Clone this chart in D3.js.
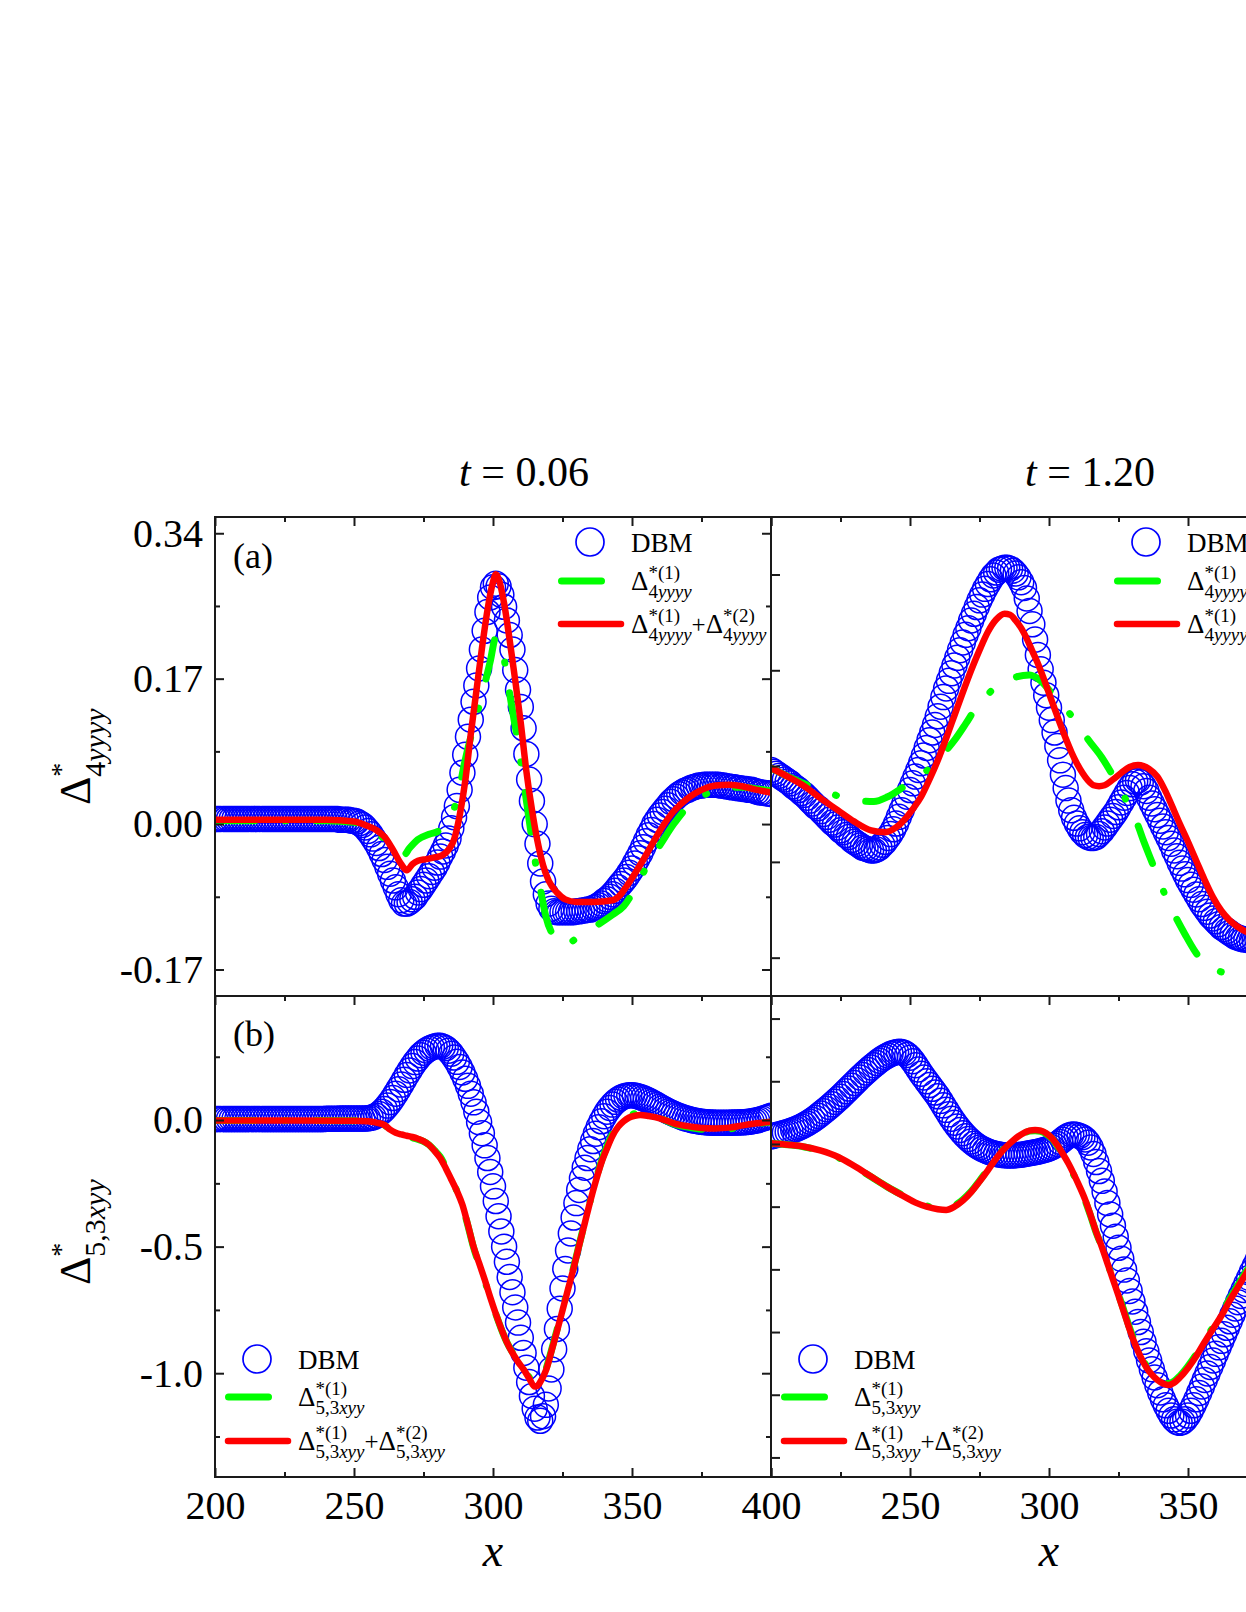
<!DOCTYPE html>
<html>
<head>
<meta charset="utf-8">
<title>DBM vs analytic TNE moments</title>
<script src="https://cdn.jsdelivr.net/npm/d3@7"></script>
<style>
  body { margin: 0; background: #fff; }
  svg text, svg tspan { font-family: "Liberation Serif", "Times New Roman", Times, serif; fill: #000; }
</style>
</head>
<body>
<svg id="chart" width="1246" height="1612" font-family="Liberation Serif, Times New Roman, serif"></svg>
<script>
// ---- data -------------------------------------------------------------
var xMajor = [200, 250, 300, 350, 400];
var xMinor = [225, 275, 325, 375];
var timeLabels = ["0.06", "1.20"];
var panelTags = ["(a)", "(b)"];

// y ticks
var ticksTopLeft = [0.34, 0.17, 0, -0.17];
var minorTopLeft = [0.255, 0.085, -0.085];
var ticksBotLeft = [0, -0.5, -1.0];
var minorBotLeft = [0.25, -0.25, -0.75, -1.25];
var ticksTopRight = [0.3, 0.2, 0.1, 0, -0.1];
var ticksBotRight = [0.5, 0.25, 0, -0.25, -0.5, -0.75, -1.0, -1.25];

// DBM, one value per unit of x starting at x = 200
var dbmTop006 = [
  0.006,0.006,0.006,0.006,0.006,0.006,0.006,0.006,0.006,0.006,
  0.006,0.006,0.006,0.006,0.006,0.006,0.006,0.006,0.006,0.006,
  0.006,0.006,0.006,0.006,0.006,0.006,0.006,0.006,0.006,0.006,
  0.006,0.006,0.006,0.006,0.006,0.006,0.006,0.006,0.006,0.006,
  0.006,0.006,0.006,0.006,0.006,0.005,0.005,0.005,0.005,0.004,
  0.004,0.003,0.001,-0.001,-0.004,-0.008,-0.012,-0.017,-0.022,-0.028,
  -0.035,-0.042,-0.050,-0.058,-0.066,-0.074,-0.082,-0.089,-0.093,-0.093,
  -0.091,-0.088,-0.085,-0.080,-0.076,-0.071,-0.066,-0.061,-0.056,-0.051,
  -0.045,-0.038,-0.032,-0.025,-0.017,-0.005,0.008,0.021,0.040,0.060,
  0.081,0.102,0.122,0.143,0.162,0.182,0.204,0.226,0.248,0.265,
  0.277,0.281,0.278,0.268,0.254,0.238,0.221,0.204,0.180,0.157,
  0.137,0.112,0.082,0.052,0.027,0.000,-0.023,-0.046,-0.067,-0.082,
  -0.093,-0.099,-0.102,-0.103,-0.103,-0.103,-0.103,-0.103,-0.103,-0.103,
  -0.102,-0.102,-0.101,-0.101,-0.100,-0.100,-0.098,-0.097,-0.095,-0.093,
  -0.090,-0.088,-0.085,-0.082,-0.078,-0.074,-0.070,-0.066,-0.062,-0.057,
  -0.052,-0.046,-0.040,-0.034,-0.027,-0.020,-0.013,-0.007,0.000,0.005,
  0.010,0.014,0.018,0.022,0.026,0.029,0.032,0.035,0.037,0.039,
  0.040,0.042,0.043,0.044,0.045,0.045,0.046,0.046,0.046,0.046,
  0.046,0.046,0.045,0.045,0.044,0.044,0.043,0.043,0.042,0.042,
  0.041,0.041,0.040,0.040,0.039,0.038,0.037,0.037,0.036,0.036,
  0.035];

var dbmBot006 = [
  0.004,0.004,0.004,0.004,0.004,0.004,0.004,0.004,0.004,0.004,
  0.004,0.004,0.004,0.004,0.004,0.004,0.004,0.004,0.004,0.004,
  0.004,0.004,0.004,0.004,0.004,0.004,0.004,0.004,0.004,0.004,
  0.004,0.004,0.004,0.004,0.004,0.004,0.004,0.004,0.004,0.004,
  0.005,0.005,0.005,0.005,0.005,0.006,0.006,0.006,0.006,0.006,
  0.006,0.006,0.006,0.006,0.006,0.007,0.009,0.012,0.017,0.024,
  0.033,0.044,0.057,0.071,0.087,0.104,0.122,0.140,0.159,0.178,
  0.196,0.213,0.229,0.243,0.256,0.266,0.275,0.282,0.287,0.291,
  0.293,0.293,0.290,0.284,0.274,0.262,0.247,0.230,0.210,0.188,
  0.163,0.135,0.104,0.070,0.033,-0.008,-0.052,-0.100,-0.150,-0.205,
  -0.262,-0.320,-0.380,-0.440,-0.500,-0.560,-0.620,-0.680,-0.740,-0.800,
  -0.860,-0.920,-0.978,-1.035,-1.090,-1.140,-1.175,-1.188,-1.170,-1.125,
  -1.060,-0.985,-0.905,-0.825,-0.745,-0.665,-0.588,-0.515,-0.448,-0.385,
  -0.328,-0.276,-0.230,-0.188,-0.150,-0.115,-0.083,-0.054,-0.028,-0.005,
  0.015,0.033,0.048,0.061,0.072,0.081,0.088,0.093,0.096,0.098,
  0.098,0.097,0.094,0.091,0.087,0.082,0.077,0.071,0.065,0.059,
  0.053,0.047,0.041,0.035,0.030,0.025,0.020,0.016,0.012,0.008,
  0.005,0.002,-0.001,-0.003,-0.005,-0.007,-0.008,-0.009,-0.010,-0.010,
  -0.011,-0.011,-0.011,-0.011,-0.011,-0.011,-0.010,-0.010,-0.010,-0.009,
  -0.009,-0.008,-0.007,-0.005,-0.003,-0.001,0.002,0.005,0.009,0.013,
  0.017];

var dbmTop120 = [
  0.096,0.094,0.092,0.090,0.088,0.086,0.084,0.082,0.079,0.077,
  0.075,0.072,0.070,0.067,0.064,0.061,0.058,0.056,0.053,0.050,
  0.047,0.044,0.041,0.039,0.036,0.033,0.031,0.028,0.026,0.023,
  0.021,0.019,0.017,0.015,0.014,0.013,0.012,0.012,0.013,0.015,
  0.018,0.021,0.025,0.029,0.034,0.040,0.047,0.054,0.061,0.068,
  0.075,0.082,0.089,0.096,0.103,0.111,0.119,0.127,0.135,0.143,
  0.152,0.162,0.172,0.181,0.189,0.197,0.205,0.213,0.221,0.229,
  0.237,0.244,0.252,0.259,0.266,0.273,0.279,0.285,0.290,0.295,
  0.299,0.302,0.305,0.306,0.307,0.307,0.306,0.304,0.301,0.297,
  0.292,0.286,0.275,0.262,0.248,0.232,0.216,0.201,0.187,0.174,
  0.161,0.148,0.135,0.121,0.106,0.091,0.077,0.064,0.054,0.046,
  0.040,0.035,0.031,0.028,0.026,0.025,0.025,0.026,0.029,0.032,
  0.036,0.040,0.044,0.048,0.052,0.057,0.062,0.067,0.072,0.077,
  0.081,0.084,0.085,0.083,0.079,0.074,0.067,0.061,0.055,0.049,
  0.043,0.037,0.031,0.025,0.019,0.012,0.006,-0.001,-0.007,-0.013,
  -0.019,-0.024,-0.029,-0.034,-0.039,-0.044,-0.048,-0.052,-0.056,-0.059,
  -0.062,-0.065,-0.068,-0.070,-0.072,-0.074,-0.076,-0.078,-0.079,-0.080,
  -0.081,-0.081,-0.082,-0.082,-0.082,-0.082,-0.082];

var dbmBot120 = [
  0.030,0.033,0.036,0.039,0.042,0.045,0.048,0.052,0.056,0.060,
  0.065,0.070,0.076,0.082,0.089,0.096,0.104,0.112,0.121,0.130,
  0.139,0.148,0.158,0.168,0.178,0.188,0.199,0.210,0.221,0.232,
  0.243,0.254,0.265,0.275,0.285,0.295,0.305,0.314,0.323,0.332,
  0.340,0.347,0.353,0.359,0.363,0.366,0.368,0.367,0.363,0.355,
  0.344,0.330,0.314,0.297,0.280,0.265,0.250,0.235,0.220,0.205,
  0.190,0.172,0.154,0.136,0.118,0.101,0.085,0.070,0.056,0.043,
  0.031,0.020,0.010,0.001,-0.007,-0.014,-0.020,-0.025,-0.030,-0.034,
  -0.037,-0.040,-0.042,-0.044,-0.045,-0.046,-0.046,-0.046,-0.045,-0.044,
  -0.043,-0.041,-0.039,-0.037,-0.035,-0.033,-0.031,-0.028,-0.025,-0.022,
  -0.018,-0.013,-0.007,0.000,0.008,0.017,0.026,0.033,0.037,0.038,
  0.036,0.032,0.027,0.018,0.005,-0.014,-0.040,-0.072,-0.108,-0.147,
  -0.190,-0.235,-0.281,-0.326,-0.370,-0.414,-0.458,-0.501,-0.544,-0.586,
  -0.628,-0.669,-0.710,-0.750,-0.789,-0.827,-0.863,-0.898,-0.931,-0.962,
  -0.991,-1.018,-1.042,-1.064,-1.083,-1.098,-1.108,-1.112,-1.108,-1.098,
  -1.083,-1.064,-1.042,-1.018,-0.993,-0.967,-0.941,-0.915,-0.889,-0.863,
  -0.837,-0.811,-0.785,-0.759,-0.733,-0.707,-0.681,-0.656,-0.631,-0.606,
  -0.582,-0.558,-0.534,-0.510,-0.487,-0.464,-0.441];

// first-order (green) and first+second order (red) curves
var redTop006X = [200,220,240,250,254,258,261,264,267,269,271,273,276,279,282,284,286,288,290,292,294,296,298,300,301,302,304,306,308,310,312,314,316,318,320,323,326,330,336,343,346,348,351,354,357,360,365,370,375,380,385,390,395,400];
var redTop006Y = [0.005,0.005,0.005,0.003,-0.001,-0.007,-0.015,-0.030,-0.047,-0.054,-0.047,-0.043,-0.041,-0.039,-0.036,-0.030,-0.018,0.010,0.050,0.105,0.155,0.205,0.250,0.283,0.292,0.287,0.258,0.215,0.168,0.118,0.062,0.017,-0.020,-0.048,-0.066,-0.080,-0.088,-0.091,-0.091,-0.089,-0.082,-0.073,-0.058,-0.042,-0.025,-0.008,0.015,0.030,0.040,0.045,0.046,0.044,0.040,0.037];
var greenTop006X = [200,240,250,255,259,263,266,268,270,273,277,281,284,287,290,293,296,299,301,303,305,307,309,311,313,315,317,319,322,325,328,332,338,343,347,352,356,360,365,370,375,380,385,390,395,400];
var greenTop006Y = [0.004,0.004,0.002,-0.004,-0.012,-0.024,-0.032,-0.036,-0.028,-0.018,-0.012,-0.007,0.005,0.028,0.075,0.114,0.150,0.190,0.218,0.210,0.172,0.133,0.095,0.050,0.005,-0.040,-0.075,-0.108,-0.132,-0.141,-0.138,-0.128,-0.117,-0.106,-0.096,-0.070,-0.045,-0.025,0.000,0.020,0.032,0.040,0.043,0.043,0.041,0.039];

var bot006X = [200,230,250,255,258,261,263,265,267,269,271,273,275,277,279,281,283,285,287,289,291,293,295,297,299,301,303,305,307,309,311,313,315,316,317,319,321,323,325,327,329,331,333,335,337,339,341,343,345,347,349,351,353,356,360,365,370,375,380,385,390,395,400];
var redBot006Y = [-0.002,-0.002,-0.003,-0.005,-0.010,-0.020,-0.038,-0.050,-0.057,-0.062,-0.067,-0.074,-0.083,-0.098,-0.122,-0.150,-0.190,-0.235,-0.280,-0.335,-0.415,-0.500,-0.565,-0.630,-0.700,-0.765,-0.825,-0.878,-0.920,-0.955,-0.985,-1.020,-1.053,-1.050,-1.035,-0.990,-0.915,-0.835,-0.752,-0.668,-0.585,-0.495,-0.408,-0.320,-0.240,-0.168,-0.112,-0.062,-0.027,-0.005,0.010,0.017,0.020,0.016,0.007,-0.013,-0.024,-0.031,-0.033,-0.030,-0.021,-0.013,-0.007];
var greenBot006Y = [-0.002,-0.002,-0.003,-0.005,-0.010,-0.021,-0.040,-0.053,-0.060,-0.066,-0.071,-0.076,-0.084,-0.098,-0.120,-0.145,-0.185,-0.232,-0.280,-0.338,-0.418,-0.503,-0.570,-0.634,-0.702,-0.766,-0.826,-0.878,-0.918,-0.952,-0.982,-1.015,-1.040,-1.040,-1.028,-0.985,-0.910,-0.830,-0.748,-0.665,-0.582,-0.492,-0.405,-0.318,-0.236,-0.162,-0.104,-0.054,-0.018,0.004,0.015,0.025,0.025,0.018,0.008,-0.015,-0.028,-0.036,-0.037,-0.035,-0.024,-0.015,-0.008];

var redTop120X = [200,206,212,218,224,230,236,241,245,248,251,254,257,260,263,266,269,272,275,278,281,284,286,288,290,292,294,296,298,300,302,304,306,308,310,312,314,316,318,320,323,326,329,332,334,336,339,342,344,347,350,353,356,359,362,365,368,371,374,377];
var redTop120Y = [0.098,0.089,0.079,0.066,0.054,0.042,0.033,0.031,0.036,0.044,0.055,0.068,0.086,0.106,0.129,0.153,0.177,0.200,0.221,0.240,0.253,0.259,0.258,0.252,0.244,0.233,0.220,0.207,0.192,0.176,0.160,0.144,0.129,0.115,0.103,0.093,0.085,0.080,0.079,0.080,0.086,0.093,0.099,0.101,0.100,0.097,0.089,0.073,0.060,0.040,0.021,0.001,-0.019,-0.037,-0.051,-0.061,-0.068,-0.073,-0.076,-0.078];
var greenTop120X = [200,207,214,220,225,231,237,242,248,253,258,262,266,270,274,278,282,287,293,297,301,306,310,314,319,323,326,329,332,334,337,340,343,346,349,352,355,358,361,364,367,370,374,377];
var greenTop120Y = [0.098,0.088,0.079,0.073,0.068,0.064,0.063,0.068,0.079,0.089,0.100,0.113,0.127,0.144,0.162,0.175,0.185,0.192,0.195,0.189,0.176,0.160,0.145,0.128,0.109,0.090,0.075,0.056,0.038,0.022,0.000,-0.022,-0.043,-0.060,-0.076,-0.091,-0.103,-0.110,-0.114,-0.116,-0.117,-0.117,-0.117,-0.117];

var bot120X = [200,206,212,218,224,230,236,242,248,252,256,260,263,266,269,272,275,278,281,284,287,290,293,295,297,299,301,303,305,307,309,311,313,315,317,319,321,323,325,327,329,331,333,335,337,339,341,343,345,347,350,353,356,359,362,365,368,371,374,377];
var redBot120Y = [0.003,-0.003,-0.011,-0.027,-0.051,-0.088,-0.130,-0.172,-0.210,-0.234,-0.250,-0.260,-0.263,-0.250,-0.226,-0.192,-0.150,-0.105,-0.058,-0.018,0.013,0.038,0.053,0.056,0.053,0.043,0.024,-0.005,-0.040,-0.078,-0.122,-0.170,-0.222,-0.285,-0.352,-0.410,-0.475,-0.540,-0.605,-0.672,-0.740,-0.800,-0.850,-0.890,-0.920,-0.941,-0.955,-0.961,-0.952,-0.932,-0.893,-0.845,-0.790,-0.737,-0.685,-0.625,-0.570,-0.515,-0.462,-0.410];
var greenBot120Y = [0.003,-0.003,-0.012,-0.028,-0.053,-0.090,-0.131,-0.172,-0.208,-0.231,-0.247,-0.256,-0.258,-0.246,-0.222,-0.189,-0.147,-0.102,-0.056,-0.016,0.014,0.037,0.051,0.053,0.050,0.040,0.022,-0.008,-0.044,-0.082,-0.126,-0.174,-0.226,-0.288,-0.354,-0.410,-0.473,-0.537,-0.600,-0.666,-0.733,-0.793,-0.843,-0.884,-0.914,-0.936,-0.950,-0.955,-0.946,-0.926,-0.886,-0.838,-0.783,-0.730,-0.677,-0.617,-0.562,-0.507,-0.455,-0.404];

// ---- layout -----------------------------------------------------------
var W = 1246, H = 1612;
var PANEL_W = 556;
var colLeft = [215, 771];
var rowTop = [517, 996], rowBottom = [996, 1477];
var AXIS = "#1a1a1a";
var SERIF = "Liberation Serif, Times New Roman, serif";

var svg = d3.select("#chart");
svg.append("rect").attr("width", W).attr("height", H).attr("fill", "#fff");

var panels = [
  {id: "a0", col: 0, row: 0, yDomain: [-0.201, 0.359], major: ticksTopLeft, minor: minorTopLeft, fmt: 2,
   dbm: dbmTop006, redX: redTop006X, redY: redTop006Y, greenX: greenTop006X, greenY: greenTop006Y},
  {id: "b0", col: 0, row: 1, yDomain: [-1.41, 0.49], major: ticksBotLeft, minor: minorBotLeft, fmt: 1,
   dbm: dbmBot006, redX: bot006X, redY: redBot006Y, greenX: bot006X, greenY: greenBot006Y},
  {id: "a1", col: 1, row: 0, yDomain: [-0.14, 0.36], major: ticksTopRight, minor: [], fmt: 2,
   dbm: dbmTop120, redX: redTop120X, redY: redTop120Y, greenX: greenTop120X, greenY: greenTop120Y},
  {id: "b1", col: 1, row: 1, yDomain: [-1.328, 0.59], major: ticksBotRight, minor: [], fmt: 1,
   dbm: dbmBot120, redX: bot120X, redY: redBot120Y, greenX: bot120X, greenY: greenBot120Y}
];

function styleAxis(g, size) {
  g.select(".domain").remove();
  g.selectAll(".tick line").attr("stroke", AXIS).attr("stroke-width", 2);
  g.attr("font-size", size).attr("font-family", SERIF);
  g.selectAll(".tick text").attr("fill", "#000").attr("font-family", SERIF);
}

// Delta with superscript and subscript stacked after it; returns the end x
function deltaTerm(g, x0, y0, o) {
  var d = g.append("text").attr("x", x0).attr("y", y0).attr("font-size", o.big).text("\u0394");
  var xs = x0 + d.node().getComputedTextLength() + (o.gap || 0);
  var sup = g.append("text").attr("x", xs).attr("y", y0 + o.supDy).attr("font-size", o.small).text(o.sup);
  var sub = g.append("text").attr("x", xs).attr("y", y0 + o.subDy).attr("font-size", o.subSize || o.small);
  o.sub.forEach(function(p){
    sub.append("tspan").attr("font-style", p[1] ? "italic" : "normal").text(p[0]);
  });
  return xs + Math.max(sup.node().getComputedTextLength(), sub.node().getComputedTextLength());
}

panels.forEach(function(p){
  var left = colLeft[p.col], top = rowTop[p.row], bottom = rowBottom[p.row];
  var x = d3.scaleLinear().domain([200, 400]).range([left, left + PANEL_W]);
  var y = d3.scaleLinear().domain(p.yDomain).range([bottom, top]);

  svg.append("clipPath").attr("id", "clip-" + p.id).append("rect")
    .attr("x", left).attr("y", top).attr("width", PANEL_W).attr("height", bottom - top);
  var g = svg.append("g").attr("clip-path", "url(#clip-" + p.id + ")");

  // DBM open circles
  g.selectAll("circle.dbm").data(p.dbm).enter().append("circle")
    .attr("class", "dbm")
    .attr("cx", function(d, i){ return x(200 + i); })
    .attr("cy", function(d){ return y(d); })
    .attr("r", 12.5)
    .attr("fill", "none")
    .attr("stroke", "#0000ff")
    .attr("stroke-width", 1.5);

  var line = d3.line()
    .x(function(d){ return x(d[0]); })
    .y(function(d){ return y(d[1]); })
    .curve(d3.curveMonotoneX);

  g.append("path").datum(d3.zip(p.greenX, p.greenY))
    .attr("d", line).attr("fill", "none").attr("stroke", "#00ff00")
    .attr("stroke-width", 7).attr("stroke-linecap", "round")
    .attr("stroke-dasharray", "40,30,1,30");
  g.append("path").datum(d3.zip(p.redX, p.redY))
    .attr("d", line).attr("fill", "none").attr("stroke", "#ff0000")
    .attr("stroke-width", 6.5).attr("stroke-linejoin", "round");

  // axes: ticks pointing inward
  var fmt = function(v){ return v.toFixed(p.fmt); };
  var gl = svg.append("g").attr("transform", "translate(" + left + ",0)")
    .call(d3.axisLeft(y).tickValues(p.major).tickSize(-9).tickPadding(12)
      .tickFormat(p.col === 0 ? fmt : function(){ return ""; }));
  styleAxis(gl, 40);
  if (p.minor.length) {
    var glm = svg.append("g").attr("transform", "translate(" + left + ",0)")
      .call(d3.axisLeft(y).tickValues(p.minor).tickSize(-5).tickFormat(""));
    styleAxis(glm, 10);
  }
  var gr = svg.append("g").attr("transform", "translate(" + (left + PANEL_W) + ",0)")
    .call(d3.axisRight(y).tickValues(p.major).tickSize(-9).tickFormat(""));
  styleAxis(gr, 10);
  if (p.minor.length) {
    var grm = svg.append("g").attr("transform", "translate(" + (left + PANEL_W) + ",0)")
      .call(d3.axisRight(y).tickValues(p.minor).tickSize(-5).tickFormat(""));
    styleAxis(grm, 10);
  }
  var gt = svg.append("g").attr("transform", "translate(0," + top + ")")
    .call(d3.axisTop(x).tickValues(xMajor).tickSize(-9).tickFormat(""));
  styleAxis(gt, 10);
  var gtm = svg.append("g").attr("transform", "translate(0," + top + ")")
    .call(d3.axisTop(x).tickValues(xMinor).tickSize(-5).tickFormat(""));
  styleAxis(gtm, 10);
  if (p.row === 1) {
    var gb = svg.append("g").attr("transform", "translate(0," + bottom + ")")
      .call(d3.axisBottom(x).tickValues(xMajor).tickSize(-9).tickPadding(14)
        .tickFormat(function(d){ return (p.col === 1 && d === 200) ? "" : d; }));
    styleAxis(gb, 40);
    var gbm = svg.append("g").attr("transform", "translate(0," + bottom + ")")
      .call(d3.axisBottom(x).tickValues(xMinor).tickSize(-5).tickFormat(""));
    styleAxis(gbm, 10);
    svg.append("text").attr("x", left + PANEL_W / 2).attr("y", 1566)
      .attr("text-anchor", "middle").attr("font-size", 46).attr("font-style", "italic")
      .attr("font-family", SERIF).text("x");
  }

  svg.append("rect").attr("x", left).attr("y", top).attr("width", PANEL_W).attr("height", bottom - top)
    .attr("fill", "none").attr("stroke", AXIS).attr("stroke-width", 2);

  // legend
  var L = p.row === 0 ? left + 343 : left + 10;
  var ly = p.row === 0 ? [542, 581, 624] : [1359, 1397, 1441];
  var subParts = p.row === 0 ? [["4", false], ["yyyy", true]] : [["5,3", false], ["xyy", true]];
  var lg = svg.append("g").attr("font-family", SERIF);
  lg.append("circle").attr("cx", L + 32).attr("cy", ly[0]).attr("r", 14)
    .attr("fill", "none").attr("stroke", "#0000ff").attr("stroke-width", 1.7);
  lg.append("text").attr("x", L + 73).attr("y", ly[0] + 10).attr("font-size", 27).text("DBM");
  lg.append("line").attr("x1", L + 3.5).attr("x2", L + 63).attr("y1", ly[1]).attr("y2", ly[1])
    .attr("stroke", "#00ff00").attr("stroke-width", 7).attr("stroke-linecap", "round")
    .attr("stroke-dasharray", "40,30,1,30");
  lg.append("line").attr("x1", L + 3).attr("x2", L + 63).attr("y1", ly[2]).attr("y2", ly[2])
    .attr("stroke", "#ff0000").attr("stroke-width", 6.5).attr("stroke-linecap", "round");
  var legOpt = {big: 27, small: 19, supDy: -11, subDy: 8, sub: subParts};
  deltaTerm(lg, L + 73, ly[1] + 9, Object.assign({sup: "*(1)"}, legOpt));
  var e = deltaTerm(lg, L + 73, ly[2] + 9, Object.assign({sup: "*(1)"}, legOpt));
  var plus = lg.append("text").attr("x", e).attr("y", ly[2] + 9).attr("font-size", 25).text("+");
  deltaTerm(lg, e + plus.node().getComputedTextLength(), ly[2] + 9, Object.assign({sup: "*(2)"}, legOpt));
});

// column titles
timeLabels.forEach(function(t, i){
  var tx = svg.append("text").attr("x", [524, 1090][i]).attr("y", 486)
    .attr("text-anchor", "middle").attr("font-size", 42).attr("font-family", SERIF);
  tx.append("tspan").attr("font-style", "italic").text("t");
  tx.append("tspan").text(" = " + t);
});

// panel tags
panelTags.forEach(function(t, i){
  svg.append("text").attr("x", 233).attr("y", [568, 1046][i]).attr("font-size", 36)
    .attr("font-family", SERIF).text(t);
});

// rotated y labels
[[805, [["4", false], ["yyyy", true]]], [1285, [["5,3", false], ["xyy", true]]]].forEach(function(s){
  var g = svg.append("g").attr("transform", "translate(90," + s[0] + ") rotate(-90)")
    .attr("font-family", SERIF);
  deltaTerm(g, 0, 0, {big: 44, small: 28, subSize: 30, supDy: -20, subDy: 15, sup: "*", sub: s[1]});
});
</script>
</body>
</html>
